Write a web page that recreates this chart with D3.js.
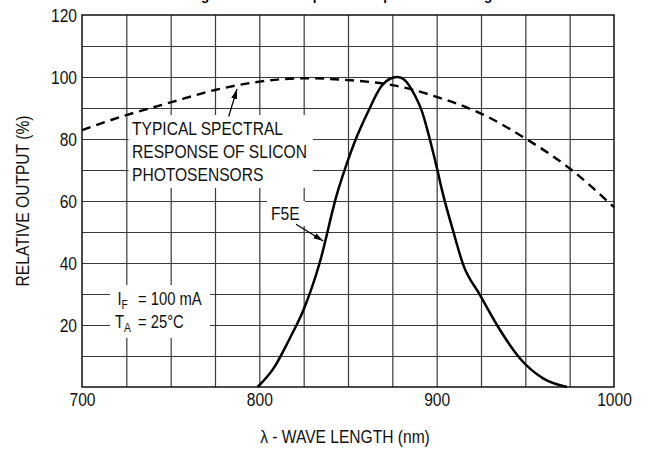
<!DOCTYPE html>
<html>
<head>
<meta charset="utf-8">
<script src="https://cdn.jsdelivr.net/npm/d3@7"></script>
<style>
  body { margin: 0; background: #fff; }
  svg { display: block; }
  .lbl { fill: #111; }
</style>
</head>
<body>
<svg id="chart" width="645" height="456"></svg>
<script>
// wavelength ticks / labels
var xLabels = [700, 800, 900, 1000];
var yLabels = [20, 40, 60, 80, 100, 120];

// typical silicon photosensor response (dashed)
var siNm = [700, 725, 750, 775, 800, 825, 850, 875, 900, 925, 950, 975, 1000];
var siOut = [82.9, 87.7, 91.8, 95.8, 98.5, 99.6, 99.0, 97.4, 93.6, 88.2, 80.2, 70.5, 58];

// F5E emitter output (solid)
var f5Nm = [799, 808, 817, 825, 834, 843.6, 850, 853.8, 861.3, 868.8, 874.4, 878, 882, 887.6, 891.4, 897, 900, 903, 909.4, 915, 924.4, 934, 947, 960, 973.5];
var f5Out = [0, 6, 15.5, 25, 40, 61.9, 73.2, 79.1, 88.8, 97, 99.6, 100, 99, 94.2, 89.4, 78, 71, 63.5, 50.1, 39.4, 29.7, 20, 9.2, 2.8, 0];

var svg = d3.select("#chart");

var x = d3.scaleLinear().domain([700, 1000]).range([82, 614]);
var y = d3.scaleLinear().domain([0, 120]).range([387, 15]);

var font = "\"Liberation Sans\", Arial, sans-serif";
// the original lettering is a condensed sans; squeeze regular glyphs to match
var squeeze = 0.82;

// title, cut off at top of the picture
svg.append("text")
    .attr("x", 347)
    .attr("y", 0.3)
    .attr("text-anchor", "middle")
    .text("Figure 3. Relative Spectral Output vs. Wavelength")
    .style("font-family", font)
    .style("font-weight", "bold")
    .style("font-size", "13.4px");

// grid
var gx = svg.append("g")
    .attr("transform", "translate(0," + y(0) + ")")
    .call(d3.axisBottom(x).tickValues(d3.range(725, 1000, 25)).tickSize(-(y(0) - y(120))).tickFormat(""));
gx.select(".domain").remove();

var gy = svg.append("g")
    .attr("transform", "translate(" + x(700) + ",0)")
    .call(d3.axisLeft(y).tickValues(d3.range(10, 120, 10)).tickSize(-(x(1000) - x(700))).tickFormat(""));
gy.select(".domain").remove();

svg.selectAll("g line")
    .style("stroke", "#3a3a3a")
    .style("stroke-width", 1.2);

// white boxes behind the notes
var boxes = [[128.5, 115, 184.5, 73], [110, 285, 100, 53], [267, 201, 38, 25]];
svg.selectAll(".notebox")
    .data(boxes)
    .join("rect")
    .attr("class", "notebox")
    .attr("x", function (d) { return d[0]; })
    .attr("y", function (d) { return d[1]; })
    .attr("width", function (d) { return d[2]; })
    .attr("height", function (d) { return d[3]; })
    .style("fill", "#fff");

// frame
svg.append("rect")
    .attr("x", x(700))
    .attr("y", y(120))
    .attr("width", x(1000) - x(700))
    .attr("height", y(0) - y(120))
    .style("fill", "none")
    .style("stroke", "#111")
    .style("stroke-width", 1.5);

// tick labels
var ax = svg.append("g")
    .attr("transform", "translate(0," + y(0) + ")")
    .call(d3.axisBottom(x).tickValues(xLabels).tickSize(0).tickPadding(6).tickFormat(d3.format("d")));
ax.select(".domain").remove();

var ay = svg.append("g")
    .attr("transform", "translate(" + x(700) + ",0)")
    .call(d3.axisLeft(y).tickValues(yLabels).tickSize(0).tickPadding(5).tickFormat(d3.format("d")));
ay.select(".domain").remove();

svg.selectAll("g text")
    .attr("class", "lbl")
    .style("font-family", font)
    .style("font-size", "19px")
    .style("fill", "#111");

// curves
var line = d3.line()
    .x(function (d) { return x(d[0]); })
    .y(function (d) { return y(d[1]); })
    .curve(d3.curveMonotoneX);

svg.append("path")
    .datum(d3.zip(siNm, siOut))
    .attr("d", line)
    .style("fill", "none")
    .style("stroke", "#000")
    .style("stroke-width", 2.4)
    .style("stroke-dasharray", "9,6");

svg.append("path")
    .datum(d3.zip(f5Nm, f5Out))
    .attr("d", line)
    .style("fill", "none")
    .style("stroke", "#000")
    .style("stroke-width", 2.5);

// pointer arrows
svg.append("defs").append("marker")
    .attr("id", "head")
    .attr("viewBox", "0 0 10 6")
    .attr("refX", 10)
    .attr("refY", 3)
    .attr("markerWidth", 10)
    .attr("markerHeight", 6)
    .attr("markerUnits", "userSpaceOnUse")
    .attr("orient", "auto")
    .append("path")
    .attr("d", "M0,0L10,3L0,6Z")
    .style("fill", "#000");

var arrows = [[228.7, 116.5, 237, 89], [296, 224.3, 323.3, 241]];
svg.selectAll(".arrow")
    .data(arrows)
    .join("line")
    .attr("class", "arrow")
    .attr("x1", function (d) { return d[0]; })
    .attr("y1", function (d) { return d[1]; })
    .attr("x2", function (d) { return d[2]; })
    .attr("y2", function (d) { return d[3]; })
    .attr("marker-end", "url(#head)")
    .style("stroke", "#000")
    .style("stroke-width", 1.2);

// notes
var note = ["TYPICAL SPECTRAL", "RESPONSE OF SLICON", "PHOTOSENSORS"];
svg.selectAll(".note")
    .data(note)
    .join("text")
    .attr("class", "note lbl")
    .attr("x", 132)
    .attr("y", function (d, i) { return 135 + i * 22.8; })
    .text(function (d) { return d; })
    .style("font-family", font)
    .style("font-size", "19px");

svg.append("text")
    .attr("class", "lbl")
    .attr("x", 271)
    .attr("y", 220)
    .text("F5E")
    .style("font-family", font)
    .style("font-size", "19px");

var cond = svg.append("g");
cond.append("text").attr("x", 117.5).attr("y", 305)
    .html("I<tspan dy='4' style='font-size:12.5px'>F</tspan>");
cond.append("text").attr("x", 138).attr("y", 305).text("= 100 mA");
cond.append("text").attr("x", 115).attr("y", 328.3)
    .html("T<tspan dy='4' style='font-size:12.5px'>A</tspan>");
cond.append("text").attr("x", 138).attr("y", 328.3).text("= 25\u00b0C");
cond.selectAll("text")
    .attr("class", "lbl")
    .style("font-family", font)
    .style("font-size", "18px");

// axis titles
svg.append("text")
    .attr("class", "lbl")
    .attr("transform", "translate(28.5,201) rotate(-90)")
    .attr("text-anchor", "middle")
    .text("RELATIVE OUTPUT (%)")
    .style("font-family", font)
    .style("font-size", "19px");

svg.append("text")
    .attr("class", "lbl")
    .attr("x", 345)
    .attr("y", 443)
    .attr("text-anchor", "middle")
    .text("\u03bb - WAVE LENGTH (nm)")
    .style("font-family", font)
    .style("font-size", "19px");

svg.selectAll("text.lbl").each(function () {
    var w = this.getComputedTextLength();
    d3.select(this)
        .attr("textLength", w * squeeze)
        .attr("lengthAdjust", "spacingAndGlyphs");
});
</script>
</body>
</html>
